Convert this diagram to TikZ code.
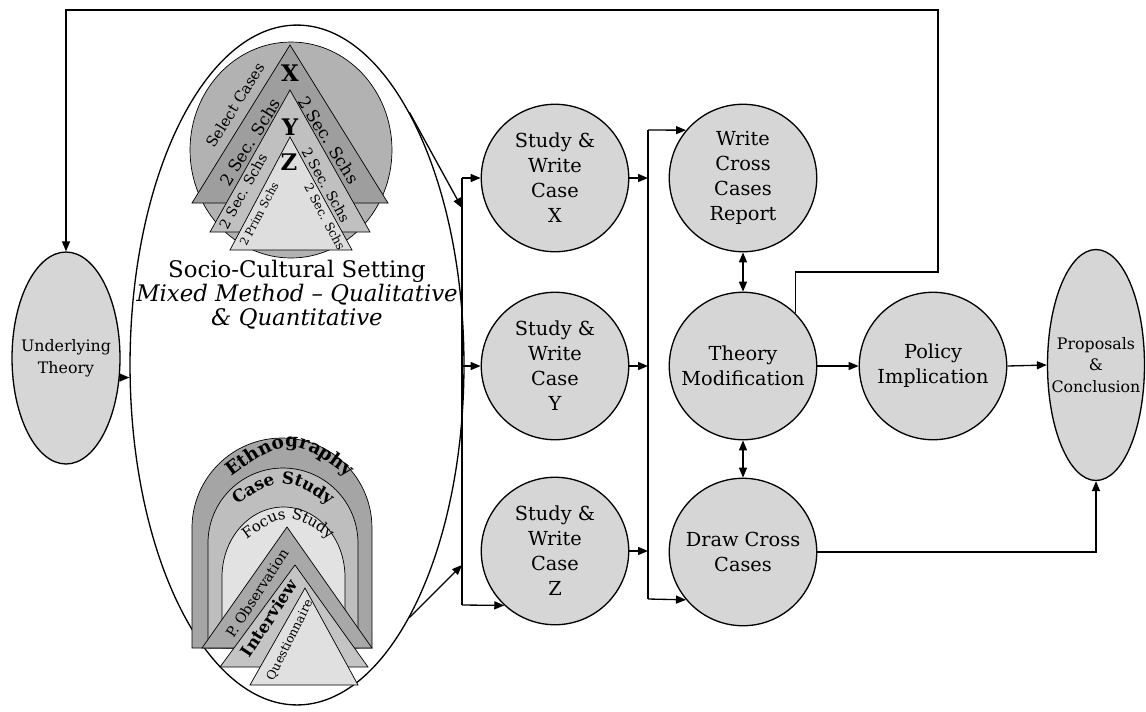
\documentclass[tikz,border=0pt]{standalone}
\usepackage{fontspec}
\setmainfont{DejaVu Serif}
\usetikzlibrary{shapes.geometric,arrows.meta,decorations.text}
\definecolor{bubblegray}{RGB}{214,214,214}
\definecolor{casegray}{RGB}{178,178,178}
\definecolor{xgray}{RGB}{158,158,158}
\definecolor{ygray}{RGB}{192,192,192}
\definecolor{zgray}{RGB}{222,222,222}
\definecolor{ethgray}{RGB}{165,165,165}
\definecolor{csgray}{RGB}{190,190,190}
\definecolor{fsgray}{RGB}{226,226,226}
\definecolor{obsgray}{RGB}{168,168,168}
\definecolor{intgray}{RGB}{196,196,196}
\definecolor{quegray}{RGB}{224,224,224}
\newcommand\archbig{\fontsize{10.5}{12}\selectfont\bfseries}
\newcommand\archmid{\fontsize{9.5}{11}\selectfont\bfseries}
\newcommand\archsmall{\fontsize{8.5}{10}\selectfont}
\begin{document}
\begin{tikzpicture}[x=0.02cm,y=-0.02cm,line width=0.75pt,
    >={Triangle[length=0.2cm,width=0.16cm]},
    bubble/.style={circle,draw,fill=bubblegray,minimum size=2.95cm,inner sep=0pt,align=center,font=\fontsize{11}{14.2}\selectfont},
    oval/.style={ellipse,draw,fill=bubblegray,inner sep=0pt},
    ovaltext/.style={align=center,inner sep=0pt,font=\fontsize{9}{12.3}\selectfont},
    layer/.style={draw,line width=0.4pt},
    bandtext/.style={inner sep=0pt,font=\fontsize{#1}{#1}\selectfont},
    bandbold/.style={inner sep=0pt,font=\fontsize{#1}{#1}\selectfont\bfseries}]
    \useasboundingbox (0,0) rectangle (1146,711);
    % left part
    \node[oval,minimum width=2.16cm,minimum height=4.24cm] (UT) at (66,358) {};
    \node[ovaltext] (UTtext) at (UT) {Underlying\\Theory};
    \node[ellipse,draw,minimum width=6.68cm,minimum height=13.6cm] (setting) at (297,365) {};
    \node[align=center,font=\fontsize{13}{13.6}\selectfont] (settingtext) at (297,295)
        {Socio-Cultural Setting\\\textit{Mixed Method -- Qualitative}\\\textit{\& Quantitative}};
    % select cases
    \filldraw[layer,fill=casegray] (291,150) ellipse [x radius=2.02cm,y radius=2.16cm];
    \filldraw[layer,fill=xgray] (290,45) -- (388,203) -- (192,203) -- cycle;
    \filldraw[layer,fill=ygray] (290,90) -- (370,232) -- (210,232) -- cycle;
    \filldraw[layer,fill=zgray] (290,137) -- (352,250) -- (230,250) -- cycle;
    \node[bandtext=8.5,rotate=58] (selcases) at (235,105) {Select Cases};
    \node[bandbold=13] (xcase) at (290,73) {X};
    \node[bandbold=13] (ycase) at (290,127) {Y};
    \node[bandbold=13] (zcase) at (289,162) {Z};
    \node[bandtext=9.5,rotate=58] (xleft) at (250,142) {2 Sec. Schs};
    \node[bandtext=9.5,rotate=-58] (xright) at (329,140) {2 Sec. Schs};
    \node[bandtext=8,rotate=61] (yleft) at (243,191) {2 Sec. Schs};
    \node[bandtext=8,rotate=-61] (yright) at (326,185) {2 Sec. Schs};
    \node[bandtext=6.5,rotate=62] (zleft) at (259,214) {2 Prim Schs};
    \node[bandtext=7,rotate=-62] (zright) at (325,217) {2 Sec. Schs};
    % methods
    \filldraw[layer,fill=ethgray] (192,648) -- (192,528)
        arc[start angle=180,end angle=0,x radius=1.8cm,y radius=1.8cm] -- (372,648) -- cycle;
    \filldraw[layer,fill=csgray] (208,648) -- (208,543)
        arc[start angle=180,end angle=0,x radius=1.5cm,y radius=1.5cm] -- (358,648) -- cycle;
    \filldraw[layer,fill=fsgray] (222,648) -- (222,577)
        arc[start angle=180,end angle=0,x radius=1.23cm,y radius=1.4cm] -- (345,648) -- cycle;
    \path[decorate,decoration={text along path,text align=center,text={|\archbig|Ethnography}}]
        (212,492) .. controls (290,432) .. (368,492);
    \path[decorate,decoration={text along path,text align=center,text={|\archmid|Case Study}}]
        (222,515) .. controls (283,473) .. (344,515);
    \filldraw[layer,fill=obsgray] (287,527) -- (372,648) -- (202,648) -- cycle;
    \filldraw[layer,fill=intgray] (295,565) -- (368,667) -- (220,667) -- cycle;
    \filldraw[layer,fill=quegray] (305,588) -- (358,685) -- (250,685) -- cycle;
    \path[decorate,decoration={text along path,text align=center,text={|\archsmall|Focus Study}}]
        (226,555) .. controls (288,507) .. (350,555);
    \node[bandtext=8,rotate=57] (obs) at (257,593) {P. Observation};
    \node[bandbold=9.5,rotate=56.5] (intv) at (269,618) {Interview};
    \node[bandtext=7,rotate=63.4] (quest) at (290,640) {Questionnaire};
    % cases
    \node[bubble] (SX) at (555,178) {Study \&\\Write\\Case\\X};
    \node[bubble] (SY) at (555,366) {Study \&\\Write\\Case\\Y};
    \node[bubble] (SZ) at (555,551) {Study \&\\Write\\Case\\Z};
    \node[bubble] (WC) at (743,178) {Write\\Cross\\Cases\\Report};
    \node[bubble] (TM) at (743,366) {Theory\\Modification};
    \node[bubble] (DC) at (743,552) {Draw Cross\\Cases};
    \node[bubble] (PI) at (933,366) {Policy\\Implication};
    \node[oval,minimum width=1.94cm,minimum height=4.62cm] (PC) at (1096,365) {};
    \node[ovaltext] (PCtext) at (PC) {Proposals\\\&\\Conclusion};
    % connectors
    \draw[->] (UT.-20) -- (UT.-20 -| setting.west);
    \coordinate (lt) at (462,178);
    \coordinate (lb) at (462,605);
    \coordinate (lhi) at (462,208);
    \coordinate (llo) at (462,565);
    \draw (lt) -- (lb);
    \draw[->] (setting.66) -- (lhi);
    \draw[->] (setting.-66) -- (llo);
    \draw[->] (lt) -- (SX.west);
    \draw[->] (SY.west -| lt) -- (SY.west);
    \draw[->] (lb) -- (SZ.227);
    \coordinate (rt) at (648,130);
    \coordinate (rb) at (648,599);
    \draw (rt) -- (rb);
    \draw[->] (SX.east) -- (SX.east -| rt);
    \draw[->] (SY.east) -- (SY.east -| rt);
    \draw[->] (SZ.east) -- (SZ.east -| rt);
    \draw[->] (rt) -- (WC.140);
    \draw[->] (rb) -- (DC.220);
    \draw[<->] (WC.south) -- (TM.north);
    \draw[<->] (TM.south) -- (DC.north);
    \draw[->] (TM.east) -- (PI.west);
    \draw[->] (PI.east) -- (PC.west);
    \draw[->] (DC.east) -| (PC.south);
    % back to theory
    \coordinate (fbturn) at (938,272);
    \coordinate (fbtop) at (938,10);
    \draw[->] (TM.45) |- (fbturn) -- (fbtop) -| (UT.north);
\end{tikzpicture}
\end{document}
